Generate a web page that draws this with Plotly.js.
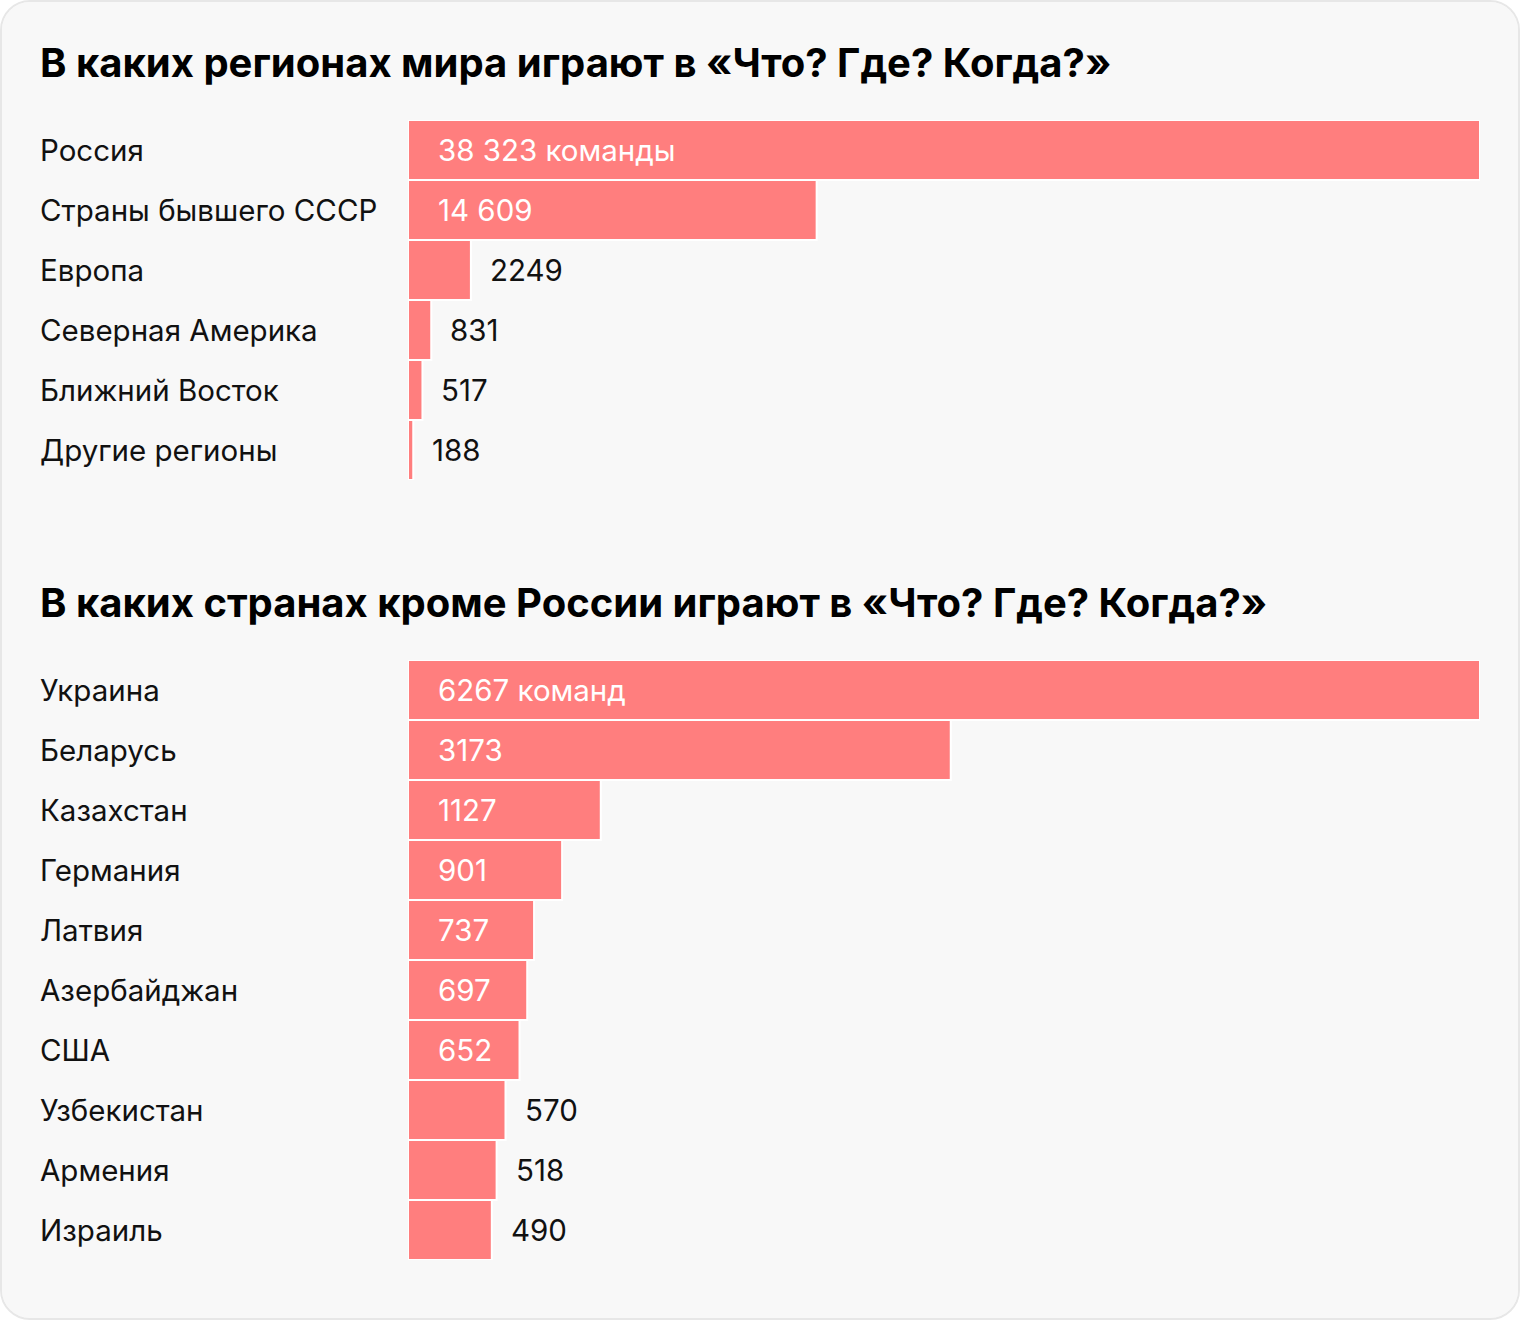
<!DOCTYPE html>
<html>
<head>
<meta charset="utf-8">
<script src="https://cdn.plot.ly/plotly-3.0.1.min.js"></script>
<style>
  html, body { margin: 0; padding: 0; background: #ffffff; }
  #card {
    box-sizing: border-box;
    width: 1520px; height: 1320px;
    border: 2px solid #e7e7e7;
    border-radius: 30px;
    background: #f8f8f8;
    overflow: hidden;
  }
</style>
</head>
<body>
<div id="card"><div id="chart"></div></div>
<script>
// data
const regions = ['Россия', 'Страны бывшего СССР', 'Европа', 'Северная Америка', 'Ближний Восток', 'Другие регионы'];
const regionTeams = [38323, 14609, 2249, 831, 517, 188];

const countries = ['Украина', 'Беларусь', 'Казахстан', 'Германия', 'Латвия', 'Азербайджан', 'США', 'Узбекистан', 'Армения', 'Израиль'];
const countryTeams = [6267, 3173, 1127, 901, 737, 697, 652, 570, 518, 490];

const title1 = 'В каких регионах мира играют в «Что? Где? Когда?»';
const title2 = 'В каких странах кроме России играют в «Что? Где? Когда?»';
const unit1 = ' команды';
const unit2 = ' команд';

const W = 1516, H = 1316;
const FONT = 'Inter, Roboto, sans-serif';
const BAR = '#ff7e7e';

// px helpers (page coords -> paper fractions)
const px = x => (x - 2) / W;
const py = y => 1 - (y - 2) / H;

function fmt(n) {
  // 5+ digit numbers get a space as thousands separator
  return n >= 10000 ? String(n).replace(/\B(?=(\d{3})+(?!\d))/g, ' ') : String(n);
}

function barTrace(names, vals, xa, ya) {
  return {
    type: 'bar',
    orientation: 'h',
    x: vals,
    y: names,
    xaxis: xa,
    yaxis: ya,
    marker: { color: BAR, line: { color: '#ffffff', width: 2 } },
    hoverinfo: 'none'
  };
}

function labels(names, vals, unit, xa, ya) {
  const max = Math.max(...vals);
  const out = [];
  names.forEach((n, i) => {
    out.push({
      xref: 'paper', yref: ya, x: px(38), y: n,
      xanchor: 'left', yanchor: 'middle',
      text: n, showarrow: false,
      font: { family: FONT, size: 29.5, color: '#111111' }
    });
    const inside = vals[i] / max >= 0.1;
    out.push({
      xref: xa, yref: ya, x: inside ? 0 : vals[i], y: n,
      xanchor: 'left', yanchor: 'middle',
      xshift: inside ? 28 : 17,
      text: fmt(vals[i]) + (i === 0 ? unit : ''),
      showarrow: false,
      font: { family: FONT, size: 29.5, color: inside ? '#ffffff' : '#111111' }
    });
  });
  return out;
}

const data = [
  barTrace(regions, regionTeams, 'x', 'y'),
  barTrace(countries, countryTeams, 'x2', 'y2')
];

const hiddenX = { showgrid: false, zeroline: false, showticklabels: false, showline: false, fixedrange: true };
const hiddenY = { type: 'category', autorange: 'reversed', showgrid: false, zeroline: false, showticklabels: false, showline: false, fixedrange: true };

const layout = {
  width: W,
  height: H,
  margin: { l: 0, r: 0, t: 0, b: 0 },
  paper_bgcolor: '#f8f8f8',
  plot_bgcolor: 'rgba(0,0,0,0)',
  showlegend: false,
  bargap: 0,
  xaxis: Object.assign({ domain: [px(408), px(1480)], range: [0, Math.max(...regionTeams)], anchor: 'y' }, hiddenX),
  yaxis: Object.assign({ domain: [py(480), py(120)], anchor: 'x' }, hiddenY),
  xaxis2: Object.assign({ domain: [px(408), px(1480)], range: [0, Math.max(...countryTeams)], anchor: 'y2' }, hiddenX),
  yaxis2: Object.assign({ domain: [py(1260), py(660)], anchor: 'x2' }, hiddenY),
  annotations: [
    {
      xref: 'paper', yref: 'paper', x: px(38), y: py(63),
      xanchor: 'left', yanchor: 'middle', showarrow: false,
      text: '<b>' + title1 + '</b>',
      font: { family: FONT, size: 40, color: '#000000' }
    },
    {
      xref: 'paper', yref: 'paper', x: px(38), y: py(603),
      xanchor: 'left', yanchor: 'middle', showarrow: false,
      text: '<b>' + title2 + '</b>',
      font: { family: FONT, size: 40, color: '#000000' }
    }
  ].concat(labels(regions, regionTeams, unit1, 'x', 'y'))
   .concat(labels(countries, countryTeams, unit2, 'x2', 'y2'))
};

Plotly.newPlot('chart', data, layout, { displayModeBar: false, staticPlot: true });
</script>
</body>
</html>
